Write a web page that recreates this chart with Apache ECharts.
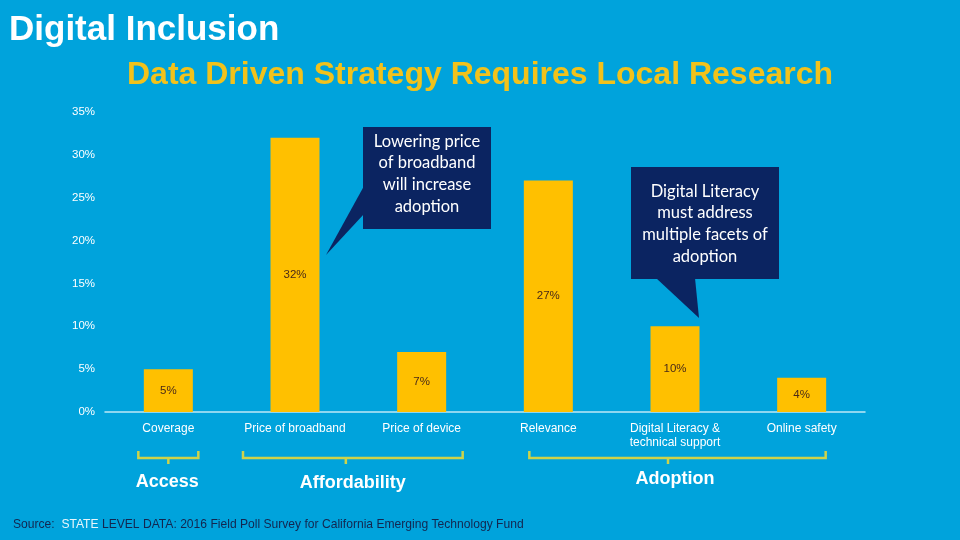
<!DOCTYPE html>
<html>
<head>
<meta charset="utf-8">
<script src="https://cdn.jsdelivr.net/npm/echarts@6/dist/echarts.min.js"></script>
<style>
html,body{margin:0;padding:0;background:#00a3dc;}
#c{width:960px;height:540px;}
</style>
</head>
<body>
<div id="c"></div>
<script>
const categories = ['Coverage','Price of broadband','Price of device','Relevance','Digital Literacy &\ntechnical support','Online safety'];
const values = [5, 32, 7, 27, 10, 4];
const yTicks = [0, 5, 10, 15, 20, 25, 30, 35];
const groups = [
  {name: 'Access', from: 0, to: 0},
  {name: 'Affordability', from: 1, to: 2},
  {name: 'Adoption', from: 3, to: 5}
];
const callouts = [
  {text: 'Lowering price\nof broadband\nwill increase\nadoption'},
  {text: 'Digital Literacy\nmust address\nmultiple facets of\nadoption'}
];

const chart = echarts.init(document.getElementById('c'));
const option = {
  backgroundColor: '#00a3dc',
  animation: false,
  title: [
    {text: 'Digital Inclusion', left: 4, top: 8,
     textStyle: {color: '#ffffff', fontSize: 35, fontWeight: 'bold', fontFamily: 'Liberation Sans'}},
    {text: 'Data Driven Strategy Requires Local Research', left: 'center', top: 54,
     textStyle: {color: '#f2c21b', fontSize: 32, fontWeight: 'bold', fontFamily: 'Liberation Sans'}}
  ],
  grid: {left: 105, right: 95, top: 112, bottom: 128},
  xAxis: {
    type: 'category',
    data: categories,
    axisLine: {lineStyle: {color: '#bde9f6', width: 1.5}},
    axisTick: {show: false},
    axisLabel: {color: '#ffffff', fontSize: 12, fontFamily: 'Liberation Sans', margin: 10, lineHeight: 14, interval: 0}
  },
  yAxis: {
    type: 'value',
    min: yTicks[0], max: yTicks[yTicks.length - 1], interval: 5,
    axisLine: {show: false},
    axisTick: {show: false},
    splitLine: {show: false},
    axisLabel: {color: '#ffffff', fontSize: 11.5, fontFamily: 'Liberation Sans', margin: 10,
                formatter: v => v + '%'}
  },
  series: [{
    type: 'bar',
    data: values,
    barWidth: 49,
    itemStyle: {color: '#ffc000'},
    label: {show: true, position: 'inside', color: '#4a2a18', fontSize: 11.5, fontFamily: 'Liberation Sans',
            formatter: p => p.value + '%'}
  }]
};
chart.setOption(option);

function drawGraphics() {
  const els = [];
  const bracketColor = '#cdd34a';
  // [left offset, right offset, tick offset from middle, label offset from middle, label y]
  const ext = [[-30, 30, 0, -1, 482], [-52, 41, -7, 0, 483], [-19, 24, -9.5, -2.5, 479]];
  const yTop = 451, yLine = 458, yTip = 464;
  groups.forEach((g, i) => {
    const x0 = chart.convertToPixel({xAxisIndex: 0}, g.from) + ext[i][0];
    const x1 = chart.convertToPixel({xAxisIndex: 0}, g.to) + ext[i][1];
    const mid = (x0 + x1) / 2;
    const xt = mid + ext[i][2];
    els.push({type: 'polyline', shape: {points: [[x0, yTop], [x0, yLine], [x1, yLine], [x1, yTop]]},
              style: {stroke: bracketColor, lineWidth: 2.5, fill: null}});
    els.push({type: 'line', shape: {x1: xt, y1: yLine, x2: xt, y2: yTip},
              style: {stroke: bracketColor, lineWidth: 2.5}});
    els.push({type: 'text', x: mid + ext[i][3], y: ext[i][4],
              style: {text: g.name, fill: '#ffffff', font: 'bold 18px "Liberation Sans"', align: 'center', verticalAlign: 'middle'}});
  });
  // callout 1
  els.push({type: 'polygon', shape: {points: [[364, 186], [326, 255], [364, 214]]}, style: {fill: '#0b2461'}});
  els.push({type: 'rect', shape: {x: 363, y: 127, width: 128, height: 102}, style: {fill: '#0b2461'}});
  els.push({type: 'text', x: 427, y: 174,
            style: {text: callouts[0].text, fill: '#ffffff', font: '16.5px Lato', lineHeight: 21.7, align: 'center', verticalAlign: 'middle'}});
  // callout 2
  els.push({type: 'polygon', shape: {points: [[656, 278], [699, 318], [695, 278]]}, style: {fill: '#0b2461'}});
  els.push({type: 'rect', shape: {x: 631, y: 167, width: 148, height: 112}, style: {fill: '#0b2461'}});
  els.push({type: 'text', x: 705, y: 224,
            style: {text: callouts[1].text, fill: '#ffffff', font: '16.5px Lato', lineHeight: 21.7, align: 'center', verticalAlign: 'middle'}});
  // source
  els.push({type: 'text', x: 13, y: 525,
            style: {text: '{a|Source:  }{b|STATE }{a|LEVEL DATA: 2016 Field Poll Survey for California Emerging Technology Fund}',
                    verticalAlign: 'middle',
                    rich: {a: {fill: '#13264f', font: '12.1px "Liberation Sans"'}, b: {fill: '#e8f6fc', font: '12.1px "Liberation Sans"'}}}});
  chart.setOption({graphic: {elements: els}});
}
drawGraphics();
</script>
</body>
</html>
